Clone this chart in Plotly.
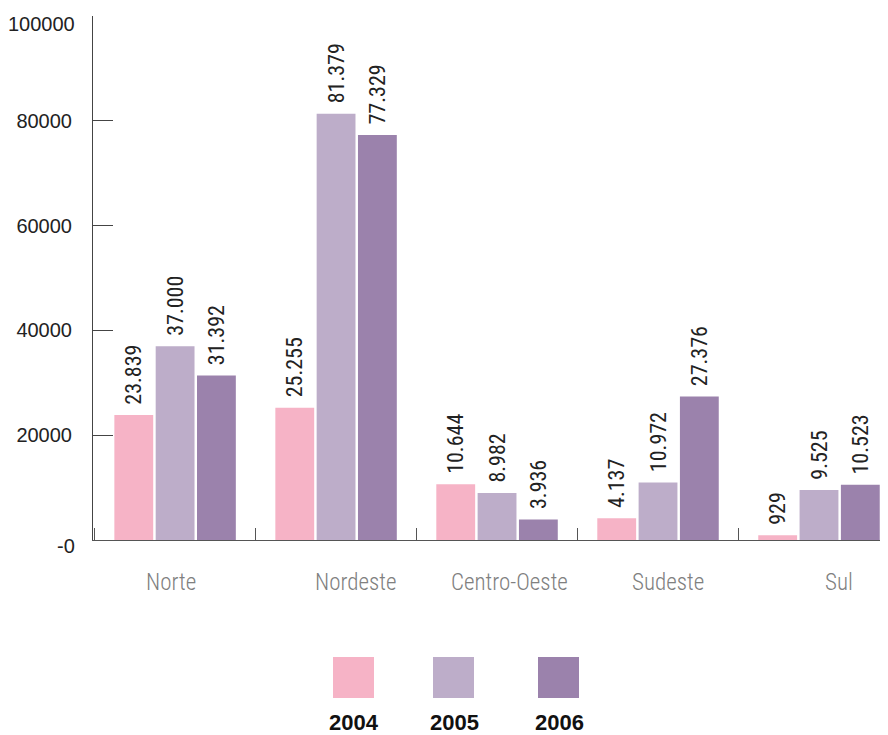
import plotly.graph_objects as go

# data
regions = ["Norte", "Nordeste", "Centro-Oeste", "Sudeste", "Sul"]
years = ["2004", "2005", "2006"]
v2004 = [23839, 25255, 10644, 4137, 929]
v2005 = [37000, 81379, 8982, 10972, 9525]
v2006 = [31392, 77329, 3936, 27376, 10523]
series = [v2004, v2005, v2006]

y_ticks = [0, 20000, 40000, 60000, 80000, 100000]
y_ticktext = ["-0", "20000", "40000", "60000", "80000", "100000"]

COLORS = ["#f6b3c6", "#bdadc9", "#9b82ac"]
COND = "Roboto Condensed, Roboto, sans-serif"
TICK_FONT = {"family": "Liberation Sans, Arial, sans-serif", "size": 20, "color": "#222"}

# page is 888x735 but the div sits 8px in from the body margin
OFF = 8
W, H = 888 - OFF, 735 - OFF
L, R, T, B = 93 - OFF, 3, 16 - OFF, 195


def px_x(x):
    # x in screenshot pixels -> paper
    return (x - OFF - L) / (W - L - R)


def px_y(y):
    return (H - B - (y - OFF)) / (H - T - B)


def br(v):
    # brazilian thousands separator, small lead-in gap above the bar
    return "\u00a0\u200a" + f"{v:,}".replace(",", ".")


fig = go.Figure()
for name, vals, col in zip(years, series, COLORS):
    fig.add_trace(go.Bar(
        x=regions, y=vals, name=name,
        marker={"color": col, "line": {"width": 0}},
        text=[br(v) for v in vals],
        textposition="outside",
        textangle=-90,
        constraintext="none",
        textfont={"family": COND, "size": 22, "color": "#222"},
        cliponaxis=False,
        showlegend=False,
    ))

# category labels (slightly off-centre in the original)
label_shift = [-4, 19, 12, 10, 20]
cat_font = {"family": "Roboto Condensed Light, " + COND, "size": 23, "color": "#808080", "weight": 300}
annotations = []
for reg, dx in zip(regions, label_shift):
    annotations.append(dict(
        x=reg, y=0, xref="x", yref="paper", xanchor="center", yanchor="middle",
        yshift=-42, xshift=dx, showarrow=False, text=reg, font=cat_font,
    ))

# end tick labels sit a little below their ticks in the original
axis_text = []
for val, txt in zip(y_ticks, y_ticktext):
    if val in (y_ticks[0], y_ticks[-1]):
        annotations.append(dict(
            x=0, y=val, xref="paper", yref="y", xanchor="right", yanchor="middle",
            xshift=-16, yshift=-6 if val == y_ticks[0] else -8,
            showarrow=False, text=txt, font=TICK_FONT,
        ))
        axis_text.append("")
    else:
        axis_text.append(txt)

# legend drawn by hand: squares with bold year below
shapes = []
legend_x = [333, 433, 538]
for yr, col, lx in zip(years, COLORS, legend_x):
    shapes.append(dict(
        type="rect", xref="paper", yref="paper",
        x0=px_x(lx), x1=px_x(lx + 41), y0=px_y(698), y1=px_y(657),
        fillcolor=col, line={"width": 0},
    ))
    annotations.append(dict(
        x=px_x(lx + 21), y=px_y(722), xref="paper", yref="paper",
        xanchor="center", yanchor="middle",
        showarrow=False, text=f"<b>{yr}</b>",
        font={"family": "Liberation Sans, Arial, sans-serif", "size": 22, "color": "#111"},
    ))

fig.update_layout(
    width=W, height=H,
    margin={"l": L, "r": R, "t": T, "b": B, "pad": 0},
    paper_bgcolor="white", plot_bgcolor="white",
    barmode="group", bargap=0.23, bargroupgap=0.06,
    annotations=annotations, shapes=shapes,
    xaxis={
        "range": [-0.51, 4.41],
        "automargin": False,
        "showticklabels": False,
        "ticks": "inside", "tickson": "boundaries", "ticklen": 12,
        "tickcolor": "#555", "tickwidth": 1,
        "showline": True, "linecolor": "#555", "linewidth": 1,
        "showgrid": False, "zeroline": False,
    },
    yaxis={
        "range": [0, 100020],
        "automargin": False,
        "tickvals": y_ticks, "ticktext": axis_text,
        "ticks": "inside", "ticklen": 20, "tickcolor": "#444", "tickwidth": 1,
        "showline": True, "linecolor": "#444", "linewidth": 1,
        "showgrid": False, "zeroline": False,
        "tickfont": TICK_FONT,
        "ticklabelstandoff": 16,
        "ticklabeloverflow": "allow",
    },
)

fig.write_html("out.html")
